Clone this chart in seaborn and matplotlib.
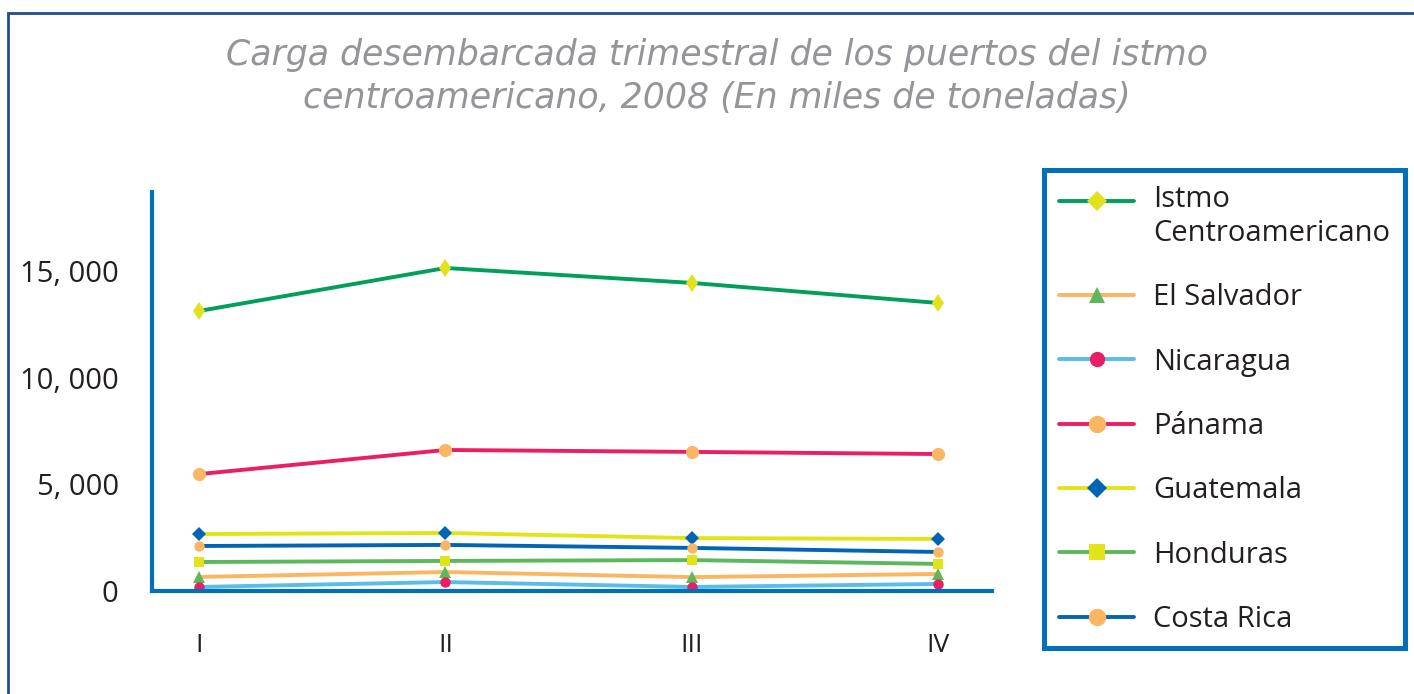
import numpy as np
import pandas as pd
import seaborn as sns
import matplotlib.pyplot as plt
from matplotlib.patches import Rectangle
from matplotlib.ticker import FuncFormatter
from matplotlib.legend_handler import HandlerLine2D

# quarterly landed cargo, thousands of tonnes
quarters = ["I", "II", "III", "IV"]
istmo = [13125, 15140, 14440, 13500]
el_salvador = [660, 890, 650, 800]
nicaragua = [190, 420, 190, 330]
panama = [5480, 6610, 6520, 6420]
guatemala = [2670, 2720, 2480, 2440]
honduras = [1360, 1410, 1450, 1270]
costa_rica = [2110, 2160, 2020, 1830]

names = ["Istmo\nCentroamericano", "El Salvador", "Nicaragua", "Pánama",
         "Guatemala", "Honduras", "Costa Rica"]
values = [istmo, el_salvador, nicaragua, panama, guatemala, honduras, costa_rica]

# line colour, marker, marker colour, marker size, legend marker (and size)
styles = [
    ("#00a05a", "d", "#e3e01d", 9.5, "D", 10.0),
    ("#fbb663", "^", "#5cb85a", 8.0, "^", 12.0),
    ("#58bde9", "o", "#ea1e63", 7.5, "o", 11.0),
    ("#ec1e62", "o", "#fbb663", 9.5, "o", 12.5),
    ("#e3e31a", "D", "#0066b3", 7.2, "D", 10.5),
    ("#5cb85c", "s", "#e3e31a", 7.5, "s", 11.0),
    ("#0066b3", "o", "#fbb663", 7.5, "o", 12.5),
]

sns.set_theme(style="white")
plt.rcParams["font.family"] = ["Open Sans", "DejaVu Sans"]

fig = plt.figure(figsize=(14.14, 6.94), dpi=100)
ax = fig.add_axes([0.1075, 0.1484, 0.7016 - 0.1075, 0.7233 - 0.1484])

for name, vals, (lc, mk, mc, ms, lmk, lms) in zip(names, values, styles):
    df = pd.DataFrame({"trimestre": quarters, "carga": vals})
    sns.lineplot(data=df, x="trimestre", y="carga", ax=ax, color=lc,
                 linewidth=2.8, marker=mk, markersize=ms,
                 markerfacecolor=mc, markeredgecolor=mc, markeredgewidth=0,
                 label=name)

ax.set_xlim(-0.191, 3.219)
ax.set_ylim(0, 18700)
ax.set_yticks([0, 5000, 10000, 15000])
ax.yaxis.set_major_formatter(FuncFormatter(lambda v, p: f"{v:,.0f}".replace(",", ", ")))
ax.set_xlabel("")
ax.set_ylabel("")
for s in ["top", "right"]:
    ax.spines[s].set_visible(False)
for s in ["left", "bottom"]:
    ax.spines[s].set_color("#0070ba")
    ax.spines[s].set_linewidth(3.0)
ax.tick_params(axis="both", length=0, colors="#231f20")
ax.tick_params(axis="y", pad=24, labelsize=21)
ax.tick_params(axis="x", pad=30, labelsize=19)


class TopHandler(HandlerLine2D):
    # lift the handle to the first line of a two-line label
    def __init__(self, shift, **kw):
        super().__init__(**kw)
        self.shift = shift

    def create_artists(self, legend, orig_handle, xdescent, ydescent,
                       width, height, fontsize, trans):
        return super().create_artists(legend, orig_handle, xdescent,
                                      ydescent - 2 * self.shift, width,
                                      height, fontsize, trans)


handles, labels = ax.get_legend_handles_labels()
leg = ax.legend(handles, labels, loc="upper left",
                bbox_to_anchor=(1044 / 1414, 1 - 170 / 694),
                bbox_transform=fig.transFigure, borderaxespad=0,
                fontsize=21, frameon=True, fancybox=False, framealpha=1,
                handlelength=2.6, handletextpad=0.65, borderpad=0.5,
                labelspacing=1.21, labelcolor="#231f20",
                handler_map={handles[0]: TopHandler(11.5)})
leg.get_frame().set_edgecolor("#0070ba")
leg.get_frame().set_linewidth(3.6)
leg.get_texts()[0].set_linespacing(1.25)
for h, st in zip(leg.legend_handles, styles):
    h.set_marker(st[4])
    h.set_markersize(st[5])

title_kw = dict(ha="center", va="baseline", fontsize=25, style="italic",
                color="#939598", family=["DejaVu Sans"])
fig.text(0.507, 1 - 65 / 694, "Carga desembarcada trimestral de los puertos del istmo", **title_kw)
fig.text(0.507, 1 - 108 / 694, "centroamericano, 2008 (En miles de toneladas)", **title_kw)

fig.patches.append(Rectangle((8 / 1414, -0.1), 1.2, 1 - 13 / 694 + 0.1,
                             transform=fig.transFigure, fill=False,
                             edgecolor="#1f4e8c", linewidth=2))

fig.savefig("out.png", dpi=100)
